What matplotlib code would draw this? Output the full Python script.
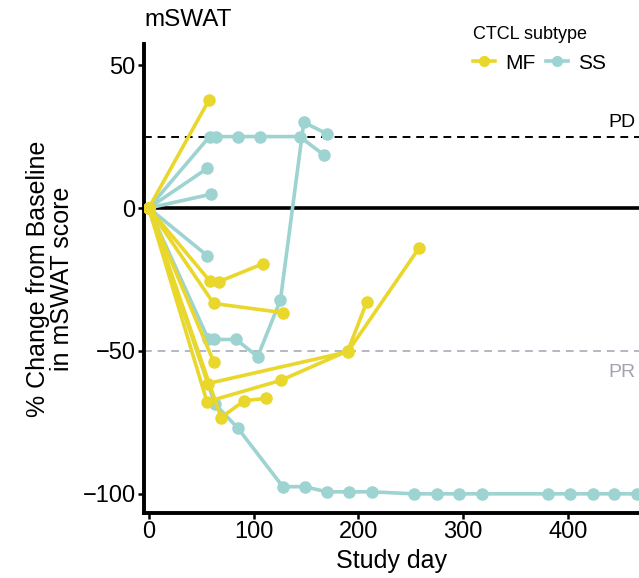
import matplotlib
matplotlib.use("Agg")
import matplotlib.pyplot as plt
from matplotlib.lines import Line2D

plt.rcParams['font.family'] = ['Liberation Sans', 'DejaVu Sans']

# ---- data ----
mf_days = [[0, 57.5],
           [0, 58, 66.7, 109],
           [0, 62, 128],
           [0, 62],
           [0, 55.6, 126, 190, 208],
           [0, 56.5, 190, 258],
           [0, 69, 91.4, 112]]
mf_vals = [[0, 37.8],
           [0, -25.4, -25.8, -19.5],
           [0, -33.4, -36.6],
           [0, -53.8],
           [0, -67.8, -60.3, -50, -33],
           [0, -61.4, -50.3, -14],
           [0, -73.3, -67.4, -66.6]]

ss_days = [[0, 58, 64.5, 85, 106.5, 144, 167.5],
           [0, 57, 62, 83.5, 104, 125.7, 148, 170],
           [0, 56],
           [0, 59],
           [0, 56],
           [0, 63, 85, 128, 149, 170, 191, 213, 253, 275, 296, 318, 381, 402, 424, 444, 466]]
ss_vals = [[0, 25, 25, 25, 25, 25, 18.5],
           [0, -46, -46, -46, -52, -32.2, 30, 26],
           [0, 13.9],
           [0, 4.8],
           [0, -16.7],
           [0, -68.5, -77, -97.5, -97.5, -99.3, -99.3, -99.3, -100, -100, -100, -100, -100, -100, -100, -100, -100]]

subtypes = ["MF", "SS"]
pd_level = 25
pr_level = -50
y_ticks = [-100, -50, 0, 50]
x_ticks = [0, 100, 200, 300, 400]

MF_COL = "#E9D72C"
SS_COL = "#9DD3D0"

fig = plt.figure(figsize=(6.39, 5.78), dpi=100)
ax = fig.add_axes([0.2254, 0.1125, 0.7746, 0.8114])

ax.axhline(0, color="black", lw=2.6, zorder=1)
ax.axhline(pd_level, color="black", lw=1.4, ls=(0, (4, 3)), zorder=1)
ax.axhline(pr_level, color="#B3B8C3", lw=1.4, ls=(0, (4, 3)), zorder=1)

for d, v in zip(ss_days, ss_vals):
    ax.plot(d, v, color=SS_COL, lw=2.6, marker="o", ms=8, zorder=2)
for d, v in zip(mf_days, mf_vals):
    ax.plot(d, v, color=MF_COL, lw=2.6, marker="o", ms=8, zorder=3)

ax.text(0.993, pd_level + 2, "PD", transform=ax.get_yaxis_transform(),
        ha="right", va="bottom", fontsize=14, color="black")
ax.text(0.993, pr_level - 4.5, "PR", transform=ax.get_yaxis_transform(),
        ha="right", va="top", fontsize=14, color="#A0A4AE")

ax.set_xlim(-4.5, 468)
ax.set_ylim(-106.7, 57.4)
ax.set_xticks(x_ticks)
ax.set_yticks(y_ticks)
ax.set_yticklabels(["\u2212100", "\u221250", "0", "50"])

for s in ["top", "right"]:
    ax.spines[s].set_visible(False)
for s in ["left", "bottom"]:
    ax.spines[s].set_linewidth(2.8)
ax.tick_params(axis="both", width=1.8, length=4, labelsize=17, pad=2, colors="black")

ax.set_xlabel("Study day", fontsize=18, labelpad=4)
ax.set_ylabel("% Change from Baseline\nin mSWAT score", fontsize=18, labelpad=6, linespacing=1.0)

fig.text(0.2254, 0.965, "mSWAT", fontsize=17.5, ha="left", va="center")

handles = [Line2D([0], [0], color=MF_COL, lw=2.6, marker="o", ms=7),
           Line2D([0], [0], color=SS_COL, lw=2.6, marker="o", ms=7)]
leg = fig.legend(handles, subtypes, title="CTCL subtype", ncol=2, frameon=False,
                 loc="upper left", bbox_to_anchor=(0.717, 0.98), fontsize=15,
                 title_fontsize=13, handlelength=1.05, handletextpad=0.5,
                 columnspacing=0.5, borderpad=0.2, labelspacing=0.5)
leg._legend_box.align = "left"

fig.savefig("out.png", dpi=100)
